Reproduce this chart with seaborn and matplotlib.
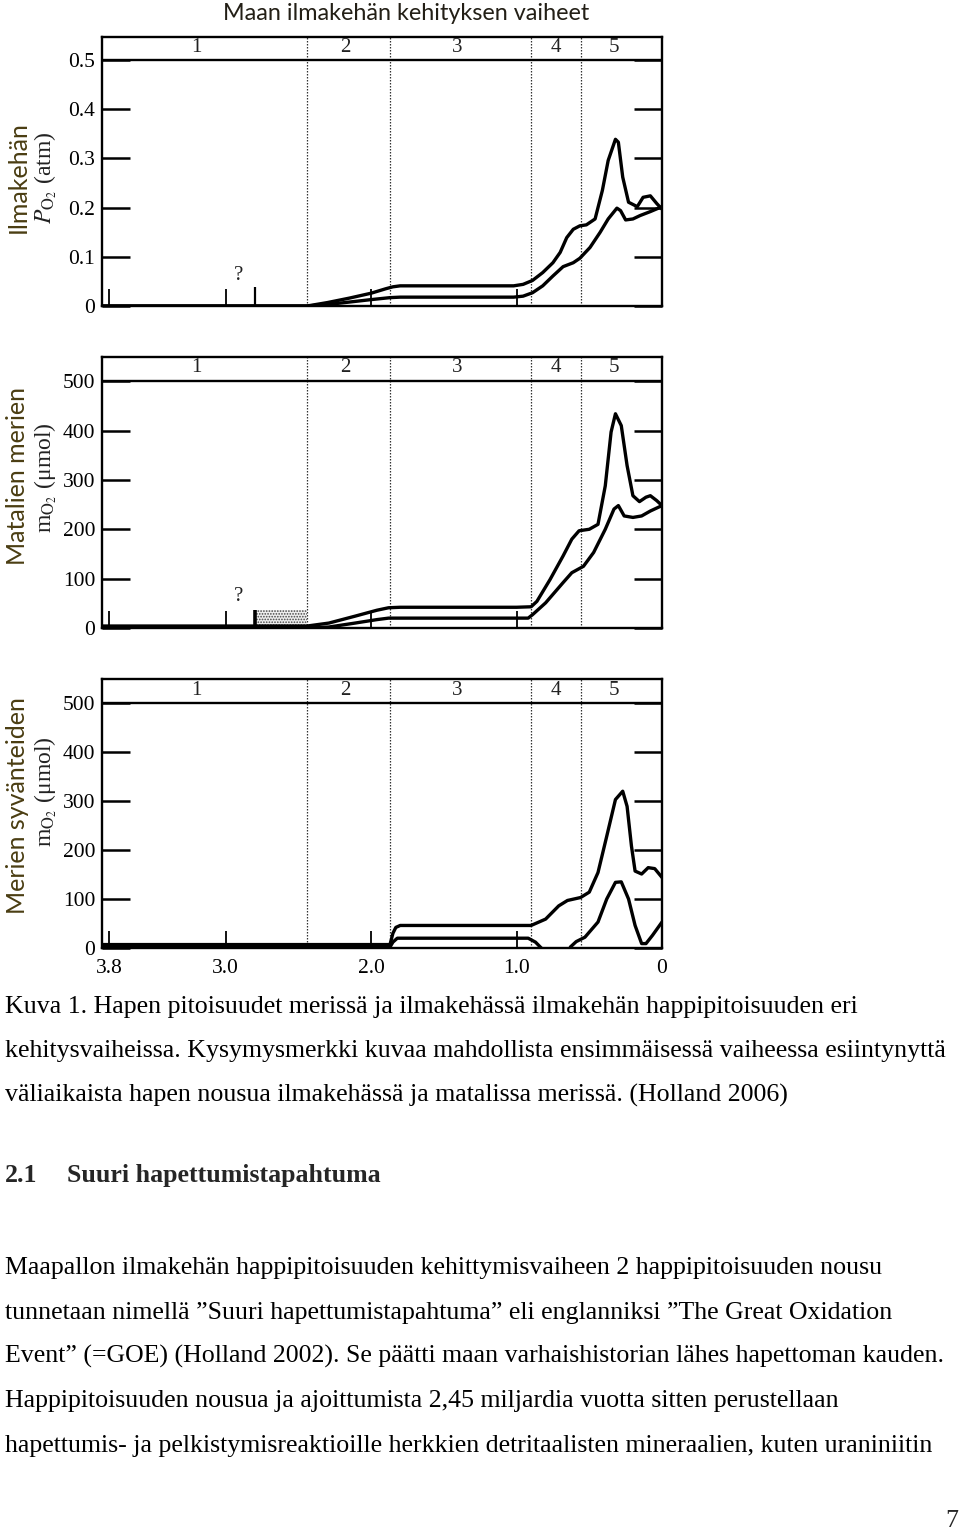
import numpy as np
import pandas as pd
import matplotlib
matplotlib.use("Agg")
import matplotlib.pyplot as plt
import matplotlib.transforms as mtransforms
import seaborn as sns

# ---------------- data ----------------
title = "Maan ilmakehän kehityksen vaiheet"
phase_bounds = [2.44, 1.87, 0.90, 0.56]
phase_labels = ["1", "2", "3", "4", "5"]
phase_label_x = [3.20, 2.18, 1.41, 0.73, 0.33]
x_ticks = [3.8, 3.0, 2.0, 1.0, 0.0]
x_ticklabels = ["3.8", "3.0", "2.0", "1.0", "0"]
question_x = 2.8

atm_ticks = [0, 0.1, 0.2, 0.3, 0.4, 0.5]
atm_ticklabels = ["0", "0.1", "0.2", "0.3", "0.4", "0.5"]
umol_ticks = [0, 100, 200, 300, 400, 500]
umol_ticklabels = ["0", "100", "200", "300", "400", "500"]

# Panel 1: atmospheric pO2 (atm)
atm_upper_x = [3.85, 2.44, 2.30, 2.15, 2.00, 1.90, 1.85, 1.80, 1.40, 1.02, 0.955, 0.89, 0.82, 0.75,
               0.70, 0.655, 0.61, 0.565, 0.52, 0.46, 0.41, 0.37, 0.32, 0.30, 0.27, 0.23, 0.17,
               0.13, 0.08, 0.035, 0.0]
atm_upper_y = [0.0, 0.0, 0.007, 0.016, 0.026, 0.035, 0.039, 0.041, 0.041, 0.041, 0.044, 0.052, 0.068,
               0.088, 0.109, 0.139, 0.156, 0.163, 0.165, 0.177, 0.235, 0.296, 0.339, 0.333, 0.262,
               0.211, 0.202, 0.221, 0.224, 0.208, 0.197]
atm_lower_x = [3.85, 2.44, 2.30, 2.15, 2.00, 1.87, 1.80, 1.40, 1.02, 0.955, 0.89, 0.82, 0.75, 0.68,
               0.61, 0.565, 0.495, 0.425, 0.37, 0.31, 0.285, 0.25, 0.20, 0.15, 0.08, 0.0]
atm_lower_y = [0.0, 0.0, 0.003, 0.008, 0.013, 0.017, 0.018, 0.018, 0.018, 0.020, 0.027, 0.041, 0.061,
               0.080, 0.088, 0.097, 0.119, 0.150, 0.177, 0.199, 0.194, 0.175, 0.177, 0.184, 0.192,
               0.202]

# Panel 2: shallow ocean mO2 (umol)
shallow_upper_x = [3.85, 2.44, 2.29, 2.11, 1.96, 1.88, 1.80, 1.40, 1.00, 0.90, 0.86, 0.77, 0.68, 0.62,
                   0.57, 0.50, 0.44, 0.39, 0.35, 0.32, 0.28, 0.24, 0.20, 0.155, 0.11, 0.08, 0.036,
                   0.0]
shallow_upper_y = [4, 4, 10, 24, 36, 41, 42, 42, 42, 43, 54, 98, 146, 180, 197, 200, 210, 288, 397, 434,
                   410, 329, 268, 256, 265, 268, 258, 248]
shallow_lower_x = [3.85, 2.44, 2.29, 2.11, 1.96, 1.88, 1.40, 0.92, 0.89, 0.80, 0.68, 0.62, 0.54, 0.47,
                   0.39, 0.33, 0.30, 0.26, 0.20, 0.14, 0.08, 0.0]
shallow_lower_y = [0, 0, 2, 10, 17, 20, 20, 20, 27, 51, 92, 112, 125, 153, 200, 241, 248, 227, 224, 227,
                   237, 248]
stipple_x = [2.80, 2.44]
stipple_top = 37

# Panel 3: deep ocean mO2 (umol)
deep_upper_x = [3.85, 1.87, 1.85, 1.83, 1.80, 1.40, 0.90, 0.80, 0.71, 0.65, 0.56, 0.50, 0.44, 0.38,
                0.32, 0.27, 0.24, 0.21, 0.185, 0.14, 0.095, 0.05, 0.0]
deep_upper_y = [7, 7, 30, 42, 46, 46, 46, 59, 86, 97, 103, 114, 154, 228, 303, 320, 289, 208, 157, 151,
                164, 162, 144]
deep_lower_a_x = [3.85, 1.87, 1.85, 1.82, 1.40, 0.92, 0.87, 0.83]
deep_lower_a_y = [2, 2, 12, 20, 20, 20, 12, 0]
deep_lower_b_x = [0.63, 0.59, 0.53, 0.44, 0.38, 0.32, 0.28, 0.23, 0.185, 0.14, 0.11, 0.065, 0.0]
deep_lower_b_y = [2, 13, 22, 53, 100, 134, 135, 100, 46, 9, 9, 26, 53]

ylabels_main = ["Ilmakehän", "Matalien merien", "Merien syvänteiden"]
ylabels_sub = [r"$P_{\mathrm{O}_2}$ (atm)", r"m$_{\mathrm{O}_2}$ (μmol)", r"m$_{\mathrm{O}_2}$ (μmol)"]

caption_lines = [
    "Kuva 1. Hapen pitoisuudet merissä ja ilmakehässä ilmakehän happipitoisuuden eri",
    "kehitysvaiheissa. Kysymysmerkki kuvaa mahdollista ensimmäisessä vaiheessa esiintynyttä",
    "väliaikaista hapen nousua ilmakehässä ja matalissa merissä. (Holland 2006)",
]
heading_num = "2.1"
heading_text = "Suuri hapettumistapahtuma"
para_lines = [
    "Maapallon ilmakehän happipitoisuuden kehittymisvaiheen 2 happipitoisuuden nousu",
    "tunnetaan nimellä ”Suuri hapettumistapahtuma” eli englanniksi ”The Great Oxidation",
    "Event” (=GOE) (Holland 2002). Se päätti maan varhaishistorian lähes hapettoman kauden.",
    "Happipitoisuuden nousua ja ajoittumista 2,45 miljardia vuotta sitten perustellaan",
    "hapettumis- ja pelkistymisreaktioille herkkien detritaalisten mineraalien, kuten uraniniitin",
]
page_number = "7"

# ---------------- style ----------------
sns.set_theme(style="white")
plt.rcParams["font.family"] = ["Liberation Serif", "DejaVu Serif"]
plt.rcParams["mathtext.fontset"] = "stix"
plt.rcParams["hatch.linewidth"] = 0.8

W, H = 960, 1532
fig = plt.figure(figsize=(W / 100, H / 100), dpi=100)
fig.patch.set_facecolor("white")


def fx(x):
    return x / W


def fy(y):
    return 1 - y / H


def make_axes(top, bottom):
    return fig.add_axes([fx(102), fy(bottom), fx(662) - fx(102), fy(top) - fy(bottom)])


LW = 2.4
panels = [
    dict(top=37, bottom=306, ymax=0.547, head=0.5, ticks=atm_ticks, tl=atm_ticklabels, qy=0.062,
         qtop=0.039, curves=[(atm_upper_x, atm_upper_y), (atm_lower_x, atm_lower_y)]),
    dict(top=357, bottom=628, ymax=549, head=500, ticks=umol_ticks, tl=umol_ticklabels, qy=64,
         qtop=37, curves=[(shallow_upper_x, shallow_upper_y), (shallow_lower_x, shallow_lower_y)]),
    dict(top=679, bottom=948, ymax=549, head=500, ticks=umol_ticks, tl=umol_ticklabels, qy=None,
         qtop=None, curves=[(deep_upper_x, deep_upper_y), (deep_lower_a_x, deep_lower_a_y),
                            (deep_lower_b_x, deep_lower_b_y)]),
]

for i, p in enumerate(panels):
    ax = make_axes(p["top"], p["bottom"])
    ax.set_facecolor("white")
    for xs, ys in p["curves"]:
        df = pd.DataFrame({"age": xs, "val": ys})
        sns.lineplot(data=df, x="age", y="val", ax=ax, color="black", lw=LW,
                     estimator=None, sort=False, zorder=3)
    ax.set_xlim(3.85, 0.0)
    ax.set_ylim(0, p["ymax"])
    ax.set_xlabel("")
    ax.set_ylabel("")
    ax.axhline(p["head"], color="black", lw=1.7, zorder=4)
    for b in phase_bounds:
        ax.axvline(b, color="#333333", lw=0.9, ls=(0, (1.2, 1.2)), zorder=2)
    trans = mtransforms.blended_transform_factory(ax.transData, ax.transAxes)
    hy = 1 - 11 / (p["bottom"] - p["top"])
    for lx, lab in zip(phase_label_x, phase_labels):
        ax.text(lx, hy, lab, transform=trans, ha="center", va="center", fontsize=15, color="#222222")
    ax.set_yticks(p["ticks"])
    ax.set_yticklabels(p["tl"])
    ax.set_xticks(x_ticks)
    if i == 2:
        ax.set_xticklabels(x_ticklabels)
    else:
        ax.set_xticklabels([])
    ax.tick_params(axis="y", direction="in", left=True, right=True, length=20, width=1.8,
                   labelsize=15.5, pad=5, colors="black")
    ax.tick_params(axis="x", direction="in", bottom=True, top=False, length=12, width=1.3,
                   labelsize=15.5, pad=8, colors="black")
    for s in ax.spines.values():
        s.set_visible(True)
        s.set_color("black")
        s.set_linewidth(1.7)
    if p["qy"] is not None:
        ax.vlines(question_x, 0, p["qtop"], color="black", lw=1.6 if i == 0 else 2.6, zorder=3)
        ax.text(2.91, p["qy"], "?", ha="center", va="center", fontsize=15, color="#222222")
    if i == 1:
        ax.fill_between(stipple_x, 0, stipple_top, facecolor="#eeeeee", edgecolor="#444444",
                        hatch="......", lw=0, zorder=2)

# y-axis labels
ylab_main_y = [177, 476, 806]
ylab_sub_y = [178, 478, 792]
for t, s, ym, ys in zip(ylabels_main, ylabels_sub, ylab_main_y, ylab_sub_y):
    fig.text(fx(18), fy(ym), t, rotation=90, ha="center", va="center", fontsize=18,
             family=["Lato", "DejaVu Sans"], color="#4a3d12")
    fig.text(fx(46), fy(ys), s, rotation=90, ha="center", va="center", fontsize=17, color="#222222")

# title
fig.text(fx(406), fy(13), title, ha="center", va="center", fontsize=16.8,
         family=["Lato", "DejaVu Sans"], color="#231f16")

# body text
fig.canvas.draw()
r = fig.canvas.get_renderer()
probe = fig.text(fx(5), fy(1057), caption_lines[1], fontsize=17, va="baseline")
wpx = probe.get_window_extent(r).width
probe.remove()
fs = 17 * 947 / wpx

cap_base = [1013, 1057.5, 1102]
for y, line in zip(cap_base, caption_lines):
    fig.text(fx(5), fy(y), line, fontsize=fs, va="baseline", ha="left", color="black")
fig.text(fx(5), fy(1182), heading_num, fontsize=fs, va="baseline", ha="left", weight="bold")
fig.text(fx(67), fy(1182), heading_text, fontsize=fs, va="baseline", ha="left", weight="bold")
para_base = [1274, 1318.5, 1363, 1407.5, 1452]
for y, line in zip(para_base, para_lines):
    fig.text(fx(5), fy(y), line, fontsize=fs, va="baseline", ha="left", color="black")
fig.text(fx(958), fy(1527), page_number, fontsize=fs, va="baseline", ha="right")

fig.savefig("out.png", dpi=100, facecolor="white")
